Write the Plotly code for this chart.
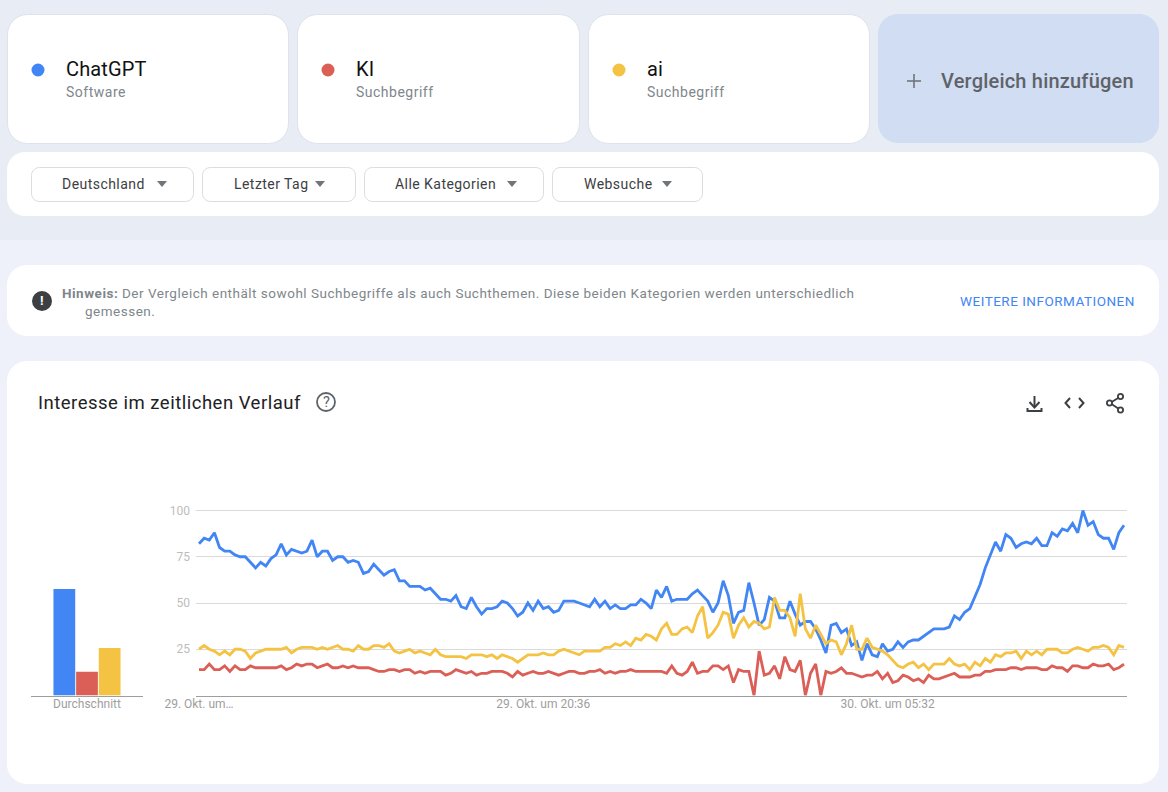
import json
import plotly.graph_objects as go

W, H = 1168, 792

terms = ["ChatGPT", "KI", "ai"]
term_types = ["Software", "Suchbegriff", "Suchbegriff"]
filters = ["Deutschland", "Letzter Tag", "Alle Kategorien", "Websuche"]
add_label = "Vergleich hinzufügen"
note_bold = "Hinweis:"
note_line1 = "Der Vergleich enthält sowohl Suchbegriffe als auch Suchthemen. Diese beiden Kategorien werden unterschiedlich"
note_line2 = "gemessen."
note_link = "WEITERE INFORMATIONEN"
chart_title = "Interesse im zeitlichen Verlauf"

y_ticks = [25, 50, 75, 100]
x_tick_index = [0, 67, 134]
x_tick_labels = ["29. Okt. um…", "29. Okt. um 20:36", "30. Okt. um 05:32"]
avg_label = "Durchschnitt"
averages = [57.6, 12.8, 25.7]

chatgpt = [
    82,85,84,88,80,78,78,76,75,75,72,69,72,70,74,76,82,76,79,78,77,78,84,75,78,78,73,75,75,72,
    73,72,66,67,71,68,65,67,68,62,62,59,59,59,57,58,55,52,52,51,54,48,47,53,48,44,47,47,48,51,50,
    47,43,45,50,46,51,47,48,45,46,51,51,51,50,49,48,52,48,51,47,49,47,47,49,49,52,50,47,57,53,
    59,51,52,52,52,55,57,54,51,45,50,62,54,39,45,46,61,50,38,41,53,51,42,42,51,44,
    38,40,40,36,30,23,38,39,34,36,27,29,19,28,22,21,28,24,25,29,26,29,30,30,32,34,36,36,36,37,
    43,41,45,47,54,60,69,76,83,78,87,85,80,82,83,82,85,81,81,88,86,90,89,93,88,100,92,94,87,85,85,79,88,92,
]
ki = [
    14,14,17,14,14,16,13,16,14,14,16,15,15,15,15,15,16,14,15,17,16,17,17,15,16,17,15,15,16,15,
    16,15,15,15,14,13,13,14,14,13,14,14,12,13,12,13,13,13,11,12,14,13,12,13,11,12,12,13,13,13,12,
    10,13,11,12,13,12,12,13,12,11,12,13,13,12,12,13,13,14,12,13,12,13,13,14,13,13,13,13,13,13,
    12,16,12,11,13,18,12,13,13,16,16,14,16,7,14,13,13,0,24,11,12,16,9,21,14,13,
    19,0,12,17,0,13,12,13,15,12,12,11,10,11,11,13,9,12,7,8,11,10,8,9,7,11,9,9,10,11,
    12,10,10,10,11,11,13,13,14,14,14,15,15,14,15,15,15,14,14,16,15,15,13,16,16,15,15,17,16,16,17,14,15,17,
]
ai = [
    25,27,25,24,22,24,22,25,25,24,20,23,24,25,25,25,25,26,23,25,26,26,26,25,26,25,26,27,25,25,
    24,27,25,25,27,27,26,28,24,23,24,25,23,24,23,22,25,22,21,21,21,21,20,22,22,22,21,22,20,22,21,
    20,18,20,22,22,22,23,22,22,24,25,24,23,22,24,24,24,24,26,26,28,27,29,27,31,30,33,32,30,36,
    39,33,33,36,37,34,43,48,31,34,38,45,44,31,38,42,37,40,39,36,37,53,46,46,42,32,
    55,36,31,38,33,28,30,29,22,28,38,25,25,31,26,25,24,22,19,16,15,17,18,15,17,14,17,17,17,20,
    17,16,17,14,18,16,20,18,22,21,23,23,24,20,24,22,24,22,25,25,25,23,23,25,26,25,24,26,26,27,26,22,27,26,
]
time_index = list(range(len(chatgpt)))

BLUE, RED, YELLOW = "#4285F4", "#DB5F57", "#F4C344"
colors = [BLUE, RED, YELLOW]
FONT = "Roboto, sans-serif"
TOP_BG, LOW_BG = "#E8ECF5", "#EEF1F9"


def px(x):
    return x / W


def py(y):
    return 1 - y / H


shapes, notes, spacing = [], [], []


def path(cmds, fill=None, line=None, width=0, close=False):
    parts = []
    for c in cmds:
        parts.append(c[0] + " " + ",".join(f"{px(c[i]):.6f} {py(c[i+1]):.6f}" for i in range(1, len(c), 2)))
    d = " ".join(parts) + (" Z" if close else "")
    shapes.append(dict(type="path", xref="paper", yref="paper", path=d, layer="below",
                       fillcolor=fill or "rgba(0,0,0,0)",
                       line=dict(color=line or "rgba(0,0,0,0)", width=width)))


def rrect(x0, y0, x1, y1, r, fill="#FFFFFF", line=None, width=0):
    k = r * 0.45
    path([("M", x0 + r, y0), ("L", x1 - r, y0),
          ("C", x1 - k, y0, x1, y0 + k, x1, y0 + r), ("L", x1, y1 - r),
          ("C", x1, y1 - k, x1 - k, y1, x1 - r, y1), ("L", x0 + r, y1),
          ("C", x0 + k, y1, x0, y1 - k, x0, y1 - r), ("L", x0, y0 + r),
          ("C", x0, y0 + k, x0 + k, y0, x0 + r, y0)], fill, line, width, True)


def circle(cx, cy, r, fill=None, line=None, width=0):
    shapes.append(dict(type="circle", xref="paper", yref="paper", layer="below",
                       x0=px(cx - r), x1=px(cx + r), y0=py(cy + r), y1=py(cy - r),
                       fillcolor=fill or "rgba(0,0,0,0)",
                       line=dict(color=line or "rgba(0,0,0,0)", width=width)))


def text(x, y, s, size, color, anchor="left", track=0, weight=400):
    notes.append(dict(xref="paper", yref="paper", x=px(x), y=py(y), text=s, showarrow=False,
                      xanchor=anchor, yanchor="middle", align="left", borderpad=0, borderwidth=0,
                      font=dict(size=size, color=color, family=FONT, weight=weight)))
    spacing.append(track)


# page bands
path([("M", 0, 240), ("L", W, 240), ("L", W, H), ("L", 0, H)], LOW_BG, close=True)

# term cards
card_x = [(7, 289), (297, 580), (588, 870)]
for (x0, x1), term, kind, col in zip(card_x, terms, term_types, colors):
    rrect(x0 + .5, 14.5, x1 - .5, 143.5, 20, "#FFFFFF", "#DFE2EA", 1)
    circle(x0 + 31, 70, 6.5, col)
    text(x0 + 59, 69, term, 20, "#111111", track=0.15)
    text(x0 + 59, 92, kind, 14, "#80868B", track=0.5)
rrect(878, 14, 1159, 143, 20, "#D0DDF3")
path([("M", 907, 81), ("L", 921, 81)], None, "#70757A", 1.6)
path([("M", 914, 74), ("L", 914, 88)], None, "#70757A", 1.6)
text(941, 81, add_label, 20, "#5F6368", track=0.2, weight=500)

# filter bar
rrect(7, 152, 1159, 216, 18)
btn_x = [(31, 194), (202, 356), (364, 544), (552, 703)]
txt_x = [62, 234, 395, 584]
tri_x = [162, 320, 512, 667]
for (x0, x1), tx, ax, label in zip(btn_x, txt_x, tri_x, filters):
    rrect(x0 + .5, 167.5, x1 - .5, 201.5, 8, "#FFFFFF", "#DADCE0", 1)
    text(tx, 184, label, 14, "#3C4043", track=0.45)
    path([("M", ax - 5, 181), ("L", ax + 5, 181), ("L", ax, 187)], "#70757A", close=True)

# note card
rrect(7, 265, 1159, 336, 20)
circle(42, 301, 10, "#3C4043")
text(42, 301, "<b>!</b>", 13, "#FFFFFF", "center")
text(62, 293, f"<b>{note_bold}</b>", 13.5, "#80868B", track=0.5)
text(122, 293, note_line1, 13.5, "#80868B", track=0.5)
text(85, 311, note_line2, 13.5, "#80868B", track=0.5)
text(960, 301, note_link, 13.5, "#4285F4", track=0.5)

# chart card
rrect(7, 361, 1159, 784, 20)
text(38, 403, chart_title, 18.5, "#202124", track=0.5)
circle(326, 402, 9, None, "#5F6368", 1.8)
text(326, 402, "?", 14.5, "#5F6368", "center")

ICON = "#3C4043"
path([("M", 1034.5, 396), ("L", 1034.5, 406)], None, ICON, 2)
path([("M", 1029.5, 402), ("L", 1034.5, 407.5), ("L", 1039.5, 402)], None, ICON, 2)
path([("M", 1027.5, 408), ("L", 1027.5, 411), ("L", 1041.5, 411), ("L", 1041.5, 408)], None, ICON, 2)
path([("M", 1070, 398), ("L", 1065.5, 403), ("L", 1070, 408)], None, ICON, 2)
path([("M", 1079, 398), ("L", 1083.5, 403), ("L", 1079, 408)], None, ICON, 2)
path([("M", 1119, 397.5), ("L", 1110, 403), ("L", 1119, 409)], None, ICON, 1.8)
circle(1120.5, 396.5, 2.6, "#FFFFFF", ICON, 1.8)
circle(1109.5, 403, 2.6, "#FFFFFF", ICON, 1.8)
circle(1120.5, 410, 2.6, "#FFFFFF", ICON, 1.8)

fig = go.Figure()
for vals, name, col in zip([chatgpt, ki, ai], terms, colors):
    fig.add_trace(go.Scatter(x=time_index, y=vals, name=name, mode="lines",
                             line=dict(color=col, width=2.8, shape="linear"),
                             xaxis="x", yaxis="y"))
for val, name, col in zip(averages, terms, colors):
    fig.add_trace(go.Bar(x=[avg_label], y=[val], name=name, marker=dict(color=col, line=dict(width=0)),
                         xaxis="x2", yaxis="y2"))

Y0, Y_TOP = 695.5, 507.5
Y_MAX = (Y0 - Y_TOP) / 1.85
STEP = 925 / 180
tick_font = dict(size=12, color="#9E9E9E", family=FONT)
fig.update_layout(
    template="none",
    width=W, height=H, margin=dict(l=0, r=0, t=0, b=0, pad=0), autosize=False,
    paper_bgcolor=TOP_BG, plot_bgcolor="rgba(0,0,0,0)", showlegend=False,
    barmode="group", bargap=0.393, bargroupgap=0.04, hovermode=False,
    shapes=shapes, annotations=notes,
    xaxis=dict(domain=[px(196), px(1127)], range=[-3 / STEP, 180 + 3 / STEP], automargin=False,
               tickmode="array", tickvals=x_tick_index, ticktext=x_tick_labels,
               tickfont=tick_font, showgrid=False, zeroline=False, showline=True,
               linecolor="#9E9E9E", linewidth=1, ticks="", anchor="y", ticklabelstandoff=-3),
    yaxis=dict(domain=[py(Y0), py(Y_TOP)], range=[0, Y_MAX], tickmode="array", tickvals=y_ticks, automargin=False,
               tickfont=dict(size=12, color="#BDBDBD", family=FONT), showgrid=True, gridcolor="#DADADA",
               gridwidth=1, zeroline=False, showline=False, ticks="", anchor="x", ticklabelstandoff=5),
    xaxis2=dict(domain=[px(31), px(143)], type="category", anchor="y2", tickfont=tick_font, automargin=False,
                showgrid=False, zeroline=False, showline=True, linecolor="#9E9E9E", linewidth=1,
                ticks="", ticklabelstandoff=-3),
    yaxis2=dict(domain=[py(Y0), py(Y_TOP)], range=[0, Y_MAX], anchor="x2", visible=False),
)

post = """
document.body.style.margin='0';document.body.style.overflow='hidden';
var track=%s;
function applyTrack(){track.forEach(function(t,i){
  var g=document.querySelector('g.annotation[data-index="'+i+'"] text');
  if(g&&t){g.style.letterSpacing=t+'px';}
});}
applyTrack();setTimeout(applyTrack,0);setTimeout(applyTrack,150);
""" % json.dumps(spacing)

fig.write_html("out.html", config={"displayModeBar": False}, post_script=post)
